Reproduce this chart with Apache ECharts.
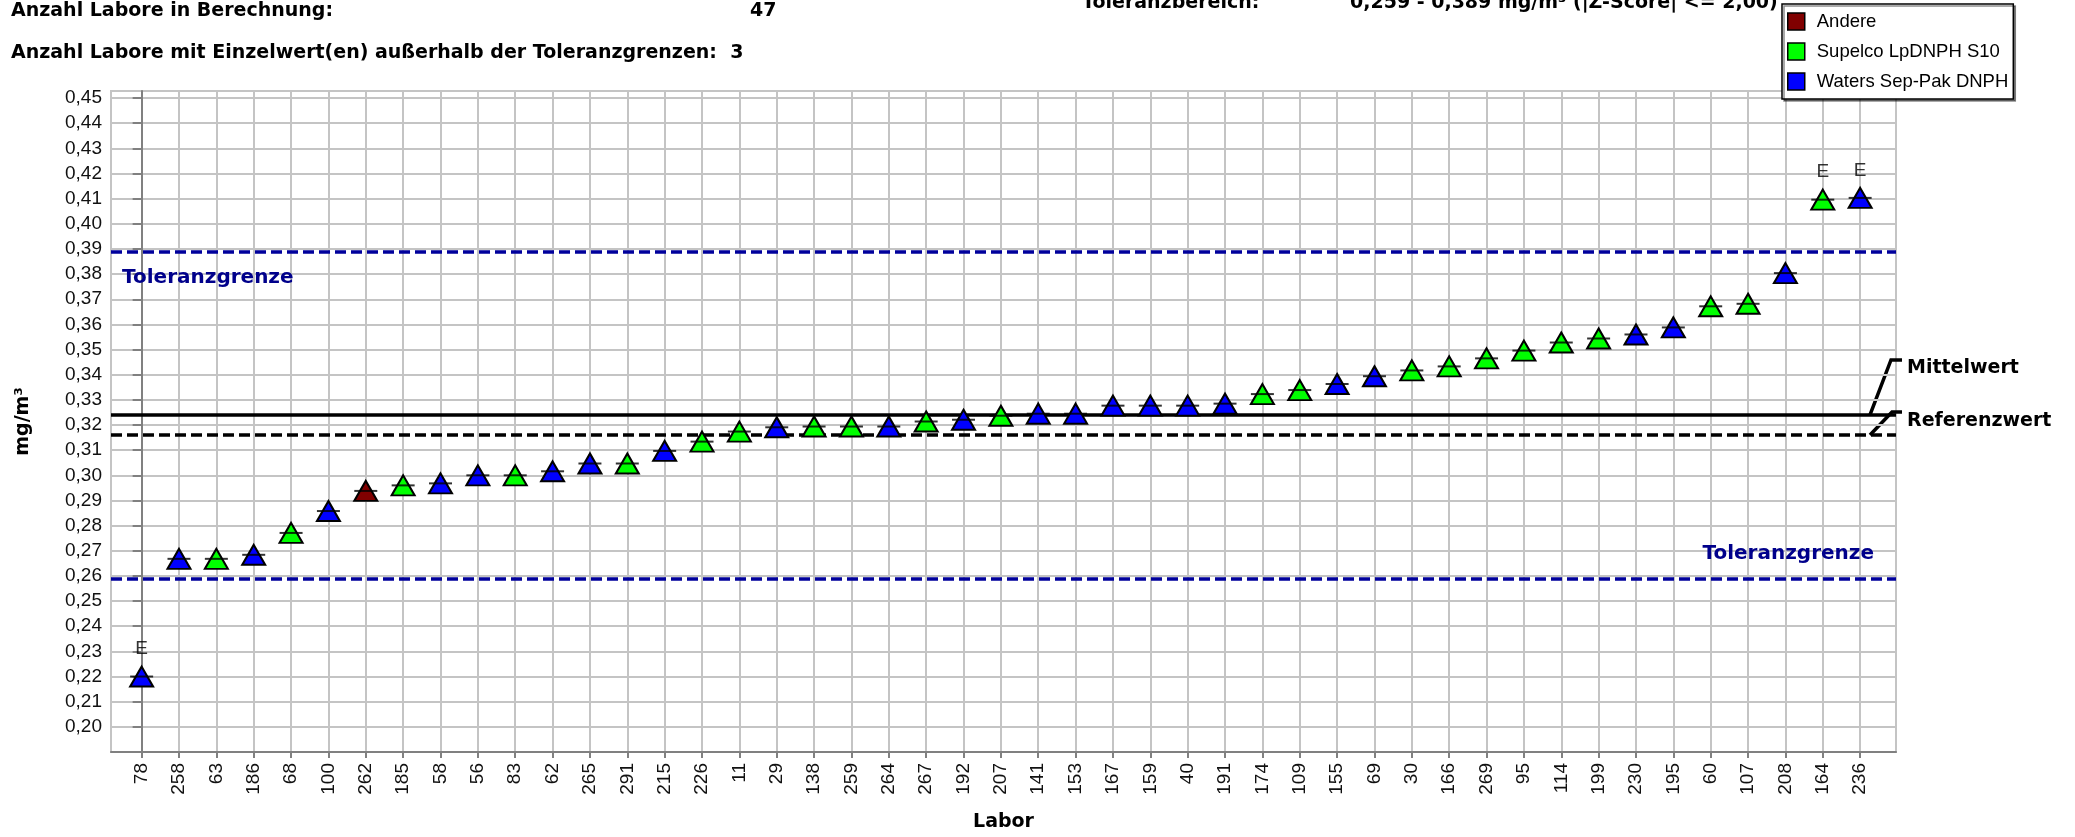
<!DOCTYPE html>
<html>
<head>
<meta charset="utf-8">
<script src="https://cdn.jsdelivr.net/npm/echarts@6/dist/echarts.min.js"></script>
<style>
html, body { margin: 0; padding: 0; background: #fff; }
#chart { width: 2075px; height: 837px; }
</style>
</head>
<body>
<div id="chart"></div>
<script>
// Labor-IDs in Reihenfolge der Messwerte
const labs = ['78', '258', '63', '186', '68', '100', '262', '185', '58', '56', '83', '62', '265', '291', '215', '226',
    '11', '29', '138', '259', '264', '267', '192', '207', '141', '153', '167', '159', '40', '191', '174', '109',
    '155', '69', '30', '166', '269', '95', '114', '199', '230', '195', '60', '107', '208', '164', '236'];
const values = [0.2200, 0.2668, 0.2668, 0.2684, 0.2771, 0.2858, 0.2938, 0.2960, 0.2968, 0.3000, 0.3000, 0.3016, 0.3047, 0.3047, 0.3097, 0.3134,
    0.3174, 0.3191, 0.3194, 0.3194, 0.3194, 0.3214, 0.3221, 0.3237, 0.3245, 0.3245, 0.3277, 0.3277, 0.3277, 0.3285, 0.3323, 0.3339,
    0.3363, 0.3394, 0.3417, 0.3433, 0.3465, 0.3496, 0.3528, 0.3544, 0.3560, 0.3588, 0.3672, 0.3682, 0.3804, 0.4096, 0.4103];
// 0 = Andere, 1 = Supelco, 2 = Waters
const groups = [2, 2, 1, 2, 1, 2, 0, 1, 2, 2, 1, 2, 2, 1, 2, 1,
    1, 2, 1, 1, 2, 1, 2, 1, 2, 2, 2, 2, 2, 2, 1, 1,
    2, 2, 1, 1, 1, 1, 1, 1, 2, 2, 1, 1, 2, 1, 2];
const flags = ['E', '', '', '', '', '', '', '', '', '', '', '', '', '', '', '',
    '', '', '', '', '', '', '', '', '', '', '', '', '', '', '', '',
    '', '', '', '', '', '', '', '', '', '', '', '', '', 'E', 'E'];
const groupNames = ['Andere', 'Supelco LpDNPH S10', 'Waters Sep-Pak DNPH'];
const groupColors = ['#800000', '#00ff00', '#0000ff'];
const yTicks = [0.20, 0.21, 0.22, 0.23, 0.24, 0.25, 0.26, 0.27, 0.28, 0.29, 0.30, 0.31, 0.32,
    0.33, 0.34, 0.35, 0.36, 0.37, 0.38, 0.39, 0.40, 0.41, 0.42, 0.43, 0.44, 0.45];
const tolLow = 0.259;
const tolHigh = 0.389;
const meanValue = 0.324;
const refValue = 0.316;

const xMin = -0.82, xMax = 46.96, yMin = 0.19, yMax = 0.4528;
const boldFont = 'bold 19px "DejaVu Sans"';
const boldLabel = { fontFamily: 'DejaVu Sans', fontWeight: 'bold', fontSize: 19 };
const fmt = function (v, d) { return v.toFixed(d).replace('.', ','); };

const chart = echarts.init(document.getElementById('chart'));

const scatterSeries = groupNames.map(function (name, g) {
    const data = [];
    values.forEach(function (v, i) {
        if (groups[i] === g) data.push([i, v]);
    });
    return {
        name: name,
        type: 'scatter',
        data: data,
        symbol: 'triangle',
        symbolSize: [23, 20],
        itemStyle: { color: groupColors[g], borderColor: '#000', borderWidth: 2, opacity: 1 },
        emphasis: { disabled: true },
        z: 3
    };
});

const tolLabel = Object.assign({ show: true, formatter: 'Toleranzgrenze', color: '#00008b' }, boldLabel, { fontSize: 20 });

const dashSeries = {
    type: 'scatter',
    silent: true,
    data: values.map(function (v, i) {
        return { value: [i, v], label: { show: flags[i] !== '', formatter: flags[i] } };
    }),
    symbol: 'rect',
    symbolSize: [23, 2],
    itemStyle: { color: '#000' },
    label: { position: 'top', distance: 17, color: '#000', fontSize: 19 },
    z: 4,
    markLine: {
        silent: true,
        symbol: 'none',
        precision: 6,
        animation: false,
        z: 2,
        data: [
            {
                yAxis: tolHigh,
                lineStyle: { color: '#00009c', type: [11, 5], width: 3.5 },
                label: Object.assign({ position: 'insideStartBottom', distance: [11, 16] }, tolLabel)
            },
            {
                yAxis: tolLow,
                lineStyle: { color: '#00009c', type: [11, 5], width: 3.5 },
                label: Object.assign({ position: 'insideEndTop', distance: [22, 15] }, tolLabel)
            },
            { yAxis: meanValue, lineStyle: { color: '#000', type: 'solid', width: 3.5 }, label: { show: false } },
            { yAxis: refValue, lineStyle: { color: '#000', type: [11, 5], width: 3.5 }, label: { show: false } }
        ]
    }
};

const outliers = flags.filter(function (f) { return f !== ''; }).length;
const headerText = function (id, x, y, text) {
    return { type: 'text', id: id, x: x, y: y, style: { text: text, font: boldFont, fill: '#000', verticalAlign: 'middle' } };
};

chart.setOption({
    animation: false,
    textStyle: { fontFamily: '"Liberation Sans", Arial, sans-serif' },
    grid: { left: 111, right: 179, top: 91, bottom: 83, show: true, borderColor: '#c4c4c4', borderWidth: 2 },
    legend: {
        data: groupNames,
        orient: 'vertical',
        left: 1782,
        top: 4,
        icon: 'rect',
        itemWidth: 17,
        itemHeight: 17,
        itemGap: 11,
        padding: [8, 5, 8, 5],
        borderColor: '#000',
        borderWidth: 1.5,
        backgroundColor: '#fff',
        shadowColor: 'rgba(0,0,0,0.45)',
        shadowOffsetX: 2,
        shadowOffsetY: 2,
        itemStyle: { borderColor: '#000', borderWidth: 1.5 },
        textStyle: { fontSize: 18.5, color: '#000', padding: [0, 0, 0, 7] }
    },
    xAxis: {
        type: 'value',
        min: xMin,
        max: xMax,
        name: 'Labor',
        nameLocation: 'middle',
        nameGap: 61,
        nameTextStyle: Object.assign({ color: '#000' }, boldLabel),
        axisLine: { lineStyle: { color: '#808080', width: 2 } },
        axisTick: { customValues: labs.map(function (l, i) { return i; }), length: 6, lineStyle: { color: '#808080', width: 2 } },
        axisLabel: {
            customValues: labs.map(function (l, i) { return i; }),
            rotate: 90,
            margin: 11,
            fontSize: 19,
            color: '#111',
            formatter: function (v) { return labs[Math.round(v)]; }
        },
        splitLine: { show: true, lineStyle: { color: '#c4c4c4', width: 2 } }
    },
    yAxis: {
        type: 'value',
        min: yMin,
        max: yMax,
        name: 'mg/m³',
        nameLocation: 'middle',
        nameGap: 78,
        nameTextStyle: Object.assign({ color: '#000' }, boldLabel),
        axisLine: { show: true, lineStyle: { color: '#808080', width: 2 } },
        axisTick: { show: true, customValues: yTicks, length: 9, lineStyle: { color: '#808080', width: 2 } },
        axisLabel: {
            customValues: yTicks,
            margin: 9,
            fontSize: 19,
            color: '#111',
            formatter: function (v) { return fmt(v, 2); }
        },
        splitLine: { show: true, lineStyle: { color: '#c4c4c4', width: 2 } }
    },
    graphic: [
        headerText('h1', 11, 11, 'Anzahl Labore in Berechnung:'),
        headerText('h1v', 750, 11, String(labs.length)),
        headerText('h2', 11, 53, 'Anzahl Labore mit Einzelwert(en) außerhalb der Toleranzgrenzen:  ' + outliers),
        headerText('h3', 1082, 3, 'Toleranzbereich:'),
        headerText('h3v', 1350, 3, fmt(tolLow, 3) + ' - ' + fmt(tolHigh, 3) + ' mg/m³ (|Z-Score| <= 2,00)')
    ],
    series: scatterSeries.concat([dashSeries])
});

// Beschriftung Mittelwert / Referenzwert mit Hinweislinien
const pMean = chart.convertToPixel({ gridIndex: 0 }, [xMax, meanValue]);
const pRef = chart.convertToPixel({ gridIndex: 0 }, [xMax, refValue]);
const R = pMean[0];
chart.setOption({
    graphic: [
        { type: 'polyline', id: 'lm', shape: { points: [[R - 26, pMean[1]], [R - 5, pMean[1] - 55], [R + 6, pMean[1] - 55]] }, style: { stroke: '#000', lineWidth: 3.5, fill: null } },
        { type: 'polyline', id: 'lr', shape: { points: [[R - 26, pRef[1]], [R - 4, pRef[1] - 23], [R + 6, pRef[1] - 23]] }, style: { stroke: '#000', lineWidth: 3.5, fill: null } },
        headerText('tm', R + 11, pMean[1] - 47, 'Mittelwert'),
        headerText('tr', R + 11, pRef[1] - 14, 'Referenzwert')
    ]
});
</script>
</body>
</html>
